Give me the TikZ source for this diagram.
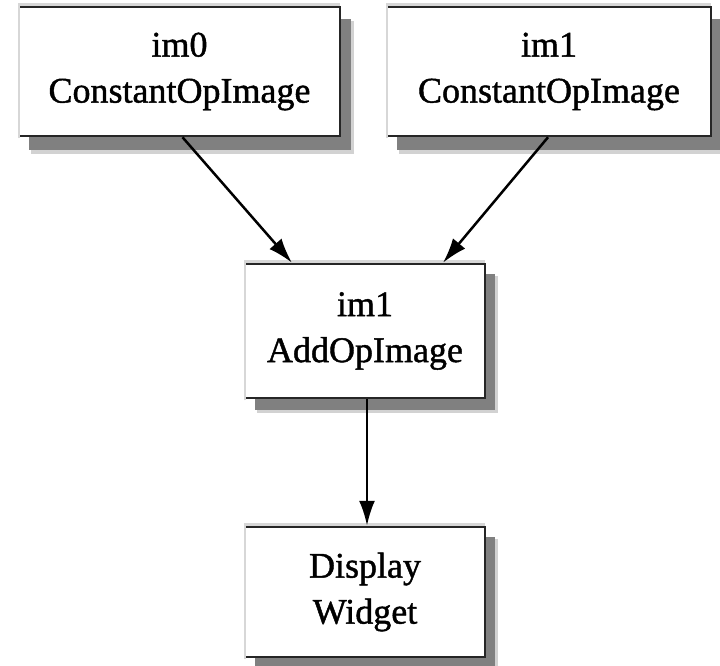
\documentclass[tikz,border=0pt]{standalone}
\usepackage{fontspec}
\setmainfont{Liberation Serif}
\newfontfamily\opfont{Liberation Serif}[FakeBold=1.2]
\usepackage{tikz}
\usepackage{xcolor}
\usetikzlibrary{shapes, arrows.meta}

\tikzset{
    opbox/.style={rectangle, fill=white, draw=black!85, line width=2.5pt, align=center,
        font=\opfont\fontsize{36}{46}\selectfont, inner sep=0pt},
    opshadow/.style={fill={rgb, 255:red, 128; green, 128; blue, 128 }},
    opedge/.style={draw={rgb, 255:red, 215; green, 215; blue, 215 }, line width=2.5pt},
    flow/.style={line width=2.5pt, -{Latex[length=25pt,width=16pt]}}
}

\begin{document}
\begin{tikzpicture}[x=1pt,y=1pt,yscale=-1,xscale=1]
    \useasboundingbox (0,0) rectangle (720,665);

    % Shadows
    \fill [gray!35] (31,21) rectangle (354,154);
    \fill [opshadow] (29,19) rectangle (351,150);
    \fill [gray!35] (399,21) rectangle (722,154);
    \fill [opshadow] (397,19) rectangle (720,150);
    \fill [gray!35] (257,276) rectangle (498,413);
    \fill [opshadow] (255,274) rectangle (495,410);
    \fill [gray!35] (257,539) rectangle (498,672);
    \fill [opshadow] (255,537) rectangle (495,669);

    % Text Node
    \node [opbox, minimum width=321pt, minimum height=129pt] (im0) at (179.5,71.5) {im0\\ConstantOpImage};
    % Text Node
    \node [opbox, minimum width=324pt, minimum height=129pt] (im1) at (549,71.5) {im1\\ConstantOpImage};
    % Text Node
    \node [opbox, minimum width=240pt, minimum height=134pt] (add) at (365,331) {im1\\AddOpImage};
    % Text Node
    \node [opbox, minimum width=240pt, minimum height=130pt] (disp) at (365,592) {Display\\Widget};

    % Bevel edges
    \foreach \b in {im0, im1, add, disp}{
        \draw [opedge] ([shift={(1.2pt,1.2pt)}]\b.south west) -- ([shift={(1.2pt,-1.2pt)}]\b.north west) -- ([shift={(-1.2pt,-1.2pt)}]\b.north east);
    }

    % Connection
    \draw [flow] ([xshift=3pt]im0.south) -- ([xshift=-73pt]add.north);
    % Connection
    \draw [flow] ([xshift=-1pt]im1.south) -- ([xshift=78pt]add.north);
    % Connection
    \draw [flow] ([xshift=2pt]add.south) -- ([xshift=2pt]disp.north);

\end{tikzpicture}
\end{document}
